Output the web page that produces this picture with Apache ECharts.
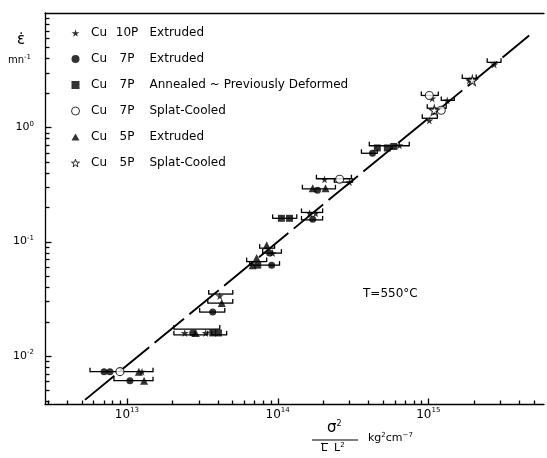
<!DOCTYPE html>
<html><head><meta charset="utf-8">
<script src="https://cdn.jsdelivr.net/npm/echarts@6/dist/echarts.min.js"></script>
<style>html,body{margin:0;padding:0;background:#fff}#c{width:547px;height:458px}</style>
</head><body><div id="c"></div>
<script>
// ---- legend / series labels ----
const seriesAlloy = ['Cu', 'Cu', 'Cu', 'Cu', 'Cu', 'Cu'];
const seriesGrade = ['10P', '7P', '7P', '7P', '5P', '5P'];
const seriesState = ['Extruded', 'Extruded', 'Annealed ~ Previously Deformed', 'Splat-Cooled', 'Extruded', 'Splat-Cooled'];

// ---- data (x = sigma^2 / (L L^2) in kg^2 cm^-7, y = strain rate in min^-1) ----
const cu10pExtX = [1.26e13, 2.42e13, 3.33e13, 4.13e13, 9.27e13, 1.63e14, 1.79e14, 2.05e14, 3.00e14, 6.43e14, 1.016e15, 1.062e15, 1.336e15, 1.87e15, 2.74e15];
const cu10pExtY = [0.00729, 0.0159, 0.0159, 0.0334, 0.0794, 0.177, 0.177, 0.351, 0.331, 0.697, 1.15, 1.79, 1.72, 2.57, 3.55];

const cu7pExtX = [7.05e12, 7.71e12, 1.047e13, 2.73e13, 3.71e13, 8.85e13, 9.13e13, 1.71e14, 1.84e14, 4.26e14];
const cu7pExtY = [0.00729, 0.00729, 0.00608, 0.0159, 0.0242, 0.0794, 0.0623, 0.157, 0.282, 0.593];

const cu7pAnnX = [3.71e13, 4.05e13, 7.38e13, 1.06e14, 1.20e14, 4.59e14, 5.35e14, 5.9e14];
const cu7pAnnY = [0.0159, 0.0159, 0.0623, 0.160, 0.160, 0.66, 0.66, 0.68];

const cu7pSplX = [8.99e12, 2.58e14, 1.016e15, 1.219e15];
const cu7pSplY = [0.00729, 0.351, 1.90, 1.41];

const cu5pExtX = [1.20e13, 1.30e13, 2.86e13, 4.26e13, 8.46e13, 7.26e13, 6.83e13, 1.71e14, 2.08e14];
const cu5pExtY = [0.00729, 0.00608, 0.0159, 0.0290, 0.0931, 0.0718, 0.0623, 0.293, 0.293];

const cu5pSplX = [1.096e15, 1.96e15];
const cu5pSplY = [1.41, 2.57];

// horizontal error bars: low x, high x, y
const errLow  = [5.69e12, 8.2e12, 2.05e13, 2.05e13, 3.65e13, 3.49e13, 3.44e13, 3.04e13, 7.6e13, 7.96e13, 6.23e13, 6.53e13, 9.27e13, 1.44e14, 1.44e14, 1.46e14, 1.81e14, 2.38e14, 3.60e14, 4.06e14, 9.12e14, 9.84e14, 8.99e14, 1.219e15, 1.68e15, 2.46e15];
const errHigh = [1.49e13, 1.49e13, 4.13e13, 3.44e13, 4.59e13, 5.04e13, 5.04e13, 4.46e13, 9.55e13, 1.06e14, 8.46e13, 1.03e14, 1.34e14, 1.99e14, 1.99e14, 2.42e14, 3.09e14, 3.14e14, 4.59e14, 7.48e14, 1.148e15, 1.315e15, 1.165e15, 1.486e15, 2.08e15, 3.04e15];
const errY    = [0.00729, 0.00608, 0.0172, 0.0153, 0.0153, 0.0348, 0.0290, 0.0242, 0.0877, 0.0794, 0.0669, 0.0623, 0.160, 0.180, 0.155, 0.290, 0.355, 0.331, 0.593, 0.69, 1.20, 1.47, 1.90, 1.72, 2.68, 3.70];

// fitted line end points
const fitX = [5.27e12, 4.67e15];
const fitY = [4.13e-3, 6.35];

// axis extents and tick values
const X_MIN = 2.86e12, X_MAX = 5.86e15;
const Y_MIN = 3.8e-3, Y_MAX = 10;
const xMajorTicks = [1e13, 1e14, 1e15];
const xMinorTicks = [3e12, 4e12, 5e12, 6e12, 7e12, 8e12, 9e12, 2e13, 3e13, 4e13, 5e13, 6e13, 7e13, 8e13, 9e13, 2e14, 3e14, 4e14, 5e14, 6e14, 7e14, 8e14, 9e14, 2e15, 3e15, 4e15, 5e15];
const yMajorTicks = [1e-2, 1e-1, 1];
const yMinorTicks = [4e-3, 5e-3, 6e-3, 7e-3, 8e-3, 9e-3, 2e-2, 3e-2, 4e-2, 5e-2, 6e-2, 7e-2, 8e-2, 9e-2, 0.2, 0.3, 0.4, 0.5, 0.6, 0.7, 0.8, 0.9, 2, 3, 4, 5, 6, 7, 8, 9];

const FONT = 'DejaVu Sans';
const STAR = 'path://M50,0 L61,35 L98,35 L68,57 L79,91 L50,70 L21,91 L32,57 L2,35 L39,35 Z';
const SQUARE = 'path://M0,0 H10 V10 H0 Z';
const TRI = 'path://M5,0 L10,9 L0,9 Z';

const names = seriesAlloy.map((a, i) => a + ' ' + seriesGrade[i] + ' ' + seriesState[i]);
const zip = (xs, ys) => xs.map((x, i) => [x, ys[i]]);

const OPEN = { color: '#fff', borderColor: '#000', borderWidth: 1.1 };
const FILL = { color: '#000', borderWidth: 0 };
const markerDefs = [
  { x: cu10pExtX, y: cu10pExtY, symbol: STAR, size: 8, style: FILL },
  { x: cu7pExtX, y: cu7pExtY, symbol: 'circle', size: 7, style: FILL },
  { x: cu7pAnnX, y: cu7pAnnY, symbol: SQUARE, size: 7, style: FILL },
  { x: cu7pSplX, y: cu7pSplY, symbol: 'circle', size: 8, style: OPEN },
  { x: cu5pExtX, y: cu5pExtY, symbol: TRI, size: 8, style: FILL },
  { x: cu5pSplX, y: cu5pSplY, symbol: STAR, size: 10, style: OPEN }
];

const scatterSeries = markerDefs.map((d, i) => ({
  name: names[i], type: 'scatter', data: zip(d.x, d.y),
  symbol: d.symbol, symbolSize: d.size, itemStyle: d.style, z: 5,
  emphasis: { disabled: true }
}));

const legendData = markerDefs.map((d, i) => ({
  name: names[i], icon: d.symbol,
  itemStyle: Object.assign({}, d.style, { borderWidth: d.style === OPEN ? 1 : 0 })
}));

function tickSeries(vals, dir, len) {
  return {
    type: 'custom', silent: true, z: 3, clip: false,
    data: vals.map(v => dir === 'x' ? [v, Y_MIN] : [X_MIN, v]),
    encode: { x: 0, y: 1 },
    renderItem: (params, api) => {
      const p = api.coord([api.value(0), api.value(1)]);
      const x = Math.round(p[0]) + 0.5, y = Math.round(p[1]) + 0.5;
      const shape = dir === 'x'
        ? { x1: x, y1: y, x2: x, y2: y - len }
        : { x1: x, y1: y, x2: x + len, y2: y };
      return { type: 'line', shape, style: { stroke: '#000', lineWidth: 1.3 } };
    }
  };
}

const errData = errLow.map((lo, i) => [lo, errHigh[i], errY[i]]);
const errSeries = {
  type: 'custom', silent: true, z: 4, data: errData,
  encode: { x: [0, 1], y: 2 },
  renderItem: (params, api) => {
    const a = api.coord([api.value(0), api.value(2)]);
    const b = api.coord([api.value(1), api.value(2)]);
    const st = { stroke: '#000', lineWidth: 1.3 };
    return { type: 'group', children: [
      { type: 'line', shape: { x1: a[0], y1: a[1], x2: b[0], y2: b[1] }, style: st },
      { type: 'line', shape: { x1: a[0], y1: a[1] - 4, x2: a[0], y2: a[1] + 0.5 }, style: st },
      { type: 'line', shape: { x1: b[0], y1: b[1] - 4, x2: b[0], y2: b[1] + 0.5 }, style: st }
    ]};
  }
};

const fitSeries = {
  type: 'line', data: zip(fitX, fitY), symbol: 'none', silent: true, z: 2,
  lineStyle: { color: '#000', width: 1.9, type: [38, 7] }
};

function powLabel(v) {
  const e = Math.round(Math.log10(v));
  if (Math.abs(Math.log10(v) - e) > 1e-6) return '';
  return '{m|10}{e|' + e + '}';
}

const chart = echarts.init(document.getElementById('c'), null, { renderer: 'canvas' });
chart.setOption({
  animation: false,
  backgroundColor: '#fff',
  grid: { left: 45, top: 13, right: 2, bottom: 54, containLabel: false },
  legend: {
    data: legendData, orient: 'vertical', left: 71, top: 27, padding: 0,
    itemWidth: 8, itemHeight: 8, itemGap: 14, selectedMode: false,
    formatter: name => {
      const i = names.indexOf(name);
      return '{a|' + seriesAlloy[i] + '}{b|' + seriesGrade[i] + '}{c|' + seriesState[i] + '}';
    },
    textStyle: {
      fontFamily: FONT, fontSize: 12, color: '#000',
      rich: {
        a: { fontFamily: FONT, fontSize: 12, width: 29, align: 'right', lineHeight: 14, color: '#000' },
        b: { fontFamily: FONT, fontSize: 12, width: 27, align: 'right', lineHeight: 14, color: '#000' },
        c: { fontFamily: FONT, fontSize: 12, padding: [0, 0, 0, 9], lineHeight: 14, color: '#000' }
      }
    }
  },
  xAxis: [{
    type: 'log', logBase: 10, min: X_MIN, max: X_MAX,
    splitLine: { show: false }, axisTick: { show: false }, minorTick: { show: false },
    axisLine: { show: true, lineStyle: { color: '#000', width: 1.3 } },
    axisLabel: {
      margin: 3, formatter: powLabel, color: '#000',
      rich: {
        m: { fontFamily: FONT, fontSize: 12, lineHeight: 15, color: '#000' },
        e: { fontFamily: FONT, fontSize: 7, lineHeight: 8, verticalAlign: 'top', color: '#000' }
      }
    }
  }, {
    type: 'log', logBase: 10, min: X_MIN, max: X_MAX, position: 'top',
    splitLine: { show: false }, axisTick: { show: false }, axisLabel: { show: false },
    axisLine: { show: true, lineStyle: { color: '#000', width: 1.3 } }
  }],
  yAxis: {
    type: 'log', logBase: 10, min: Y_MIN, max: Y_MAX,
    splitLine: { show: false }, axisTick: { show: false }, minorTick: { show: false },
    axisLine: { show: true, lineStyle: { color: '#000', width: 1.3 } },
    axisLabel: {
      margin: 11, formatter: v => (Math.round(Math.log10(v)) >= 1 ? '' : powLabel(v)), color: '#000',
      rich: {
        m: { fontFamily: FONT, fontSize: 11, lineHeight: 14, color: '#000' },
        e: { fontFamily: FONT, fontSize: 7, lineHeight: 8, verticalAlign: 'top', color: '#000' }
      }
    }
  },
  graphic: [
    { type: 'text', left: 17, top: 33, style: { text: 'ε̇', font: '15px "' + FONT + '"', fill: '#000' } },
    { type: 'text', left: 8, top: 54, style: { text: '{a|mn}{b|-1}', fill: '#000',
      rich: { a: { fontFamily: FONT, fontSize: 10, lineHeight: 12 }, b: { fontFamily: FONT, fontSize: 7, lineHeight: 7, verticalAlign: 'top' } } } },
    { type: 'text', left: 363, top: 288, style: { text: 'T=550°C', font: '12px "' + FONT + '"', fill: '#000' } },
    { type: 'text', left: 327, top: 420, style: { text: '{a|σ}{b|2}', fill: '#000',
      rich: { a: { fontFamily: FONT, fontSize: 15, lineHeight: 16 }, b: { fontFamily: FONT, fontSize: 8, lineHeight: 9, verticalAlign: 'top' } } } },
    { type: 'line', shape: { x1: 312, y1: 440, x2: 358, y2: 440 }, style: { stroke: '#000', lineWidth: 1.2 } },
    { type: 'line', shape: { x1: 321, y1: 443.5, x2: 328, y2: 443.5 }, style: { stroke: '#000', lineWidth: 1 } },
    { type: 'text', left: 321, top: 442, style: { text: '{a|L  L}{b|2}', fill: '#000',
      rich: { a: { fontFamily: FONT, fontSize: 11, lineHeight: 13 }, b: { fontFamily: FONT, fontSize: 7, lineHeight: 8, verticalAlign: 'top' } } } },
    { type: 'text', left: 368, top: 432, style: { text: '{a|kg}{b|2}{a|cm}{b|−7}', fill: '#000',
      rich: { a: { fontFamily: FONT, fontSize: 11, lineHeight: 13 }, b: { fontFamily: FONT, fontSize: 7, lineHeight: 8, verticalAlign: 'top' } } } }
  ],
  series: [
    fitSeries,
    tickSeries(xMajorTicks, 'x', 6),
    tickSeries(xMinorTicks, 'x', 4),
    tickSeries(yMajorTicks, 'y', 6),
    tickSeries(yMinorTicks, 'y', 4),
    errSeries
  ].concat(scatterSeries)
});
</script></body></html>
